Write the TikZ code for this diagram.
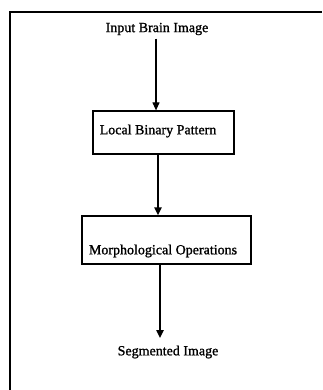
\documentclass[tikz,border=0pt]{standalone}
\usepackage{fontspec}
\setmainfont{Liberation Serif}[FakeBold=1.2]
\usepackage{tikz}
\usetikzlibrary{calc}
\usetikzlibrary{positioning, arrows.meta}

\begin{document}
\begin{tikzpicture}[x=1pt,y=1pt,-,auto,
                    font=\fontsize{14}{16}\selectfont,
                    step box/.style={draw,line width=1.2pt,minimum width=141pt,minimum height=43pt,inner sep=0pt},
                    flow/.style={-{Triangle[length=8pt,width=7pt]},line width=1.6pt}]

  \useasboundingbox (0,0) rectangle (322,390);
  \draw[line width=1.4pt] (10,0) -- (10,378) -- (322,378);

  \node (input) at (157,361) {Input Brain Image};
  \node[step box] (lbp) at (163.5,257.5) {};
  \node (lbptext) at (158,259) {Local Binary Pattern};
  \node[step box,minimum width=169pt,minimum height=48pt] (morph) at (166.5,150) {};
  \node (morphtext) at (163,139) {Morphological Operations};
  \node (seg) at (168,38) {Segmented Image};

  \path[flow]
    (input.south -| 156,0) edge[line width=1.1pt] (lbp.north -| 156,0)
    (lbp.south -| 158,0) edge[line width=2pt] (morph.north -| 158,0)
    (morph.south -| 160,0) edge[line width=2pt] ($(seg.north -| 160,0)+(0,4)$);

\end{tikzpicture}
\end{document}
